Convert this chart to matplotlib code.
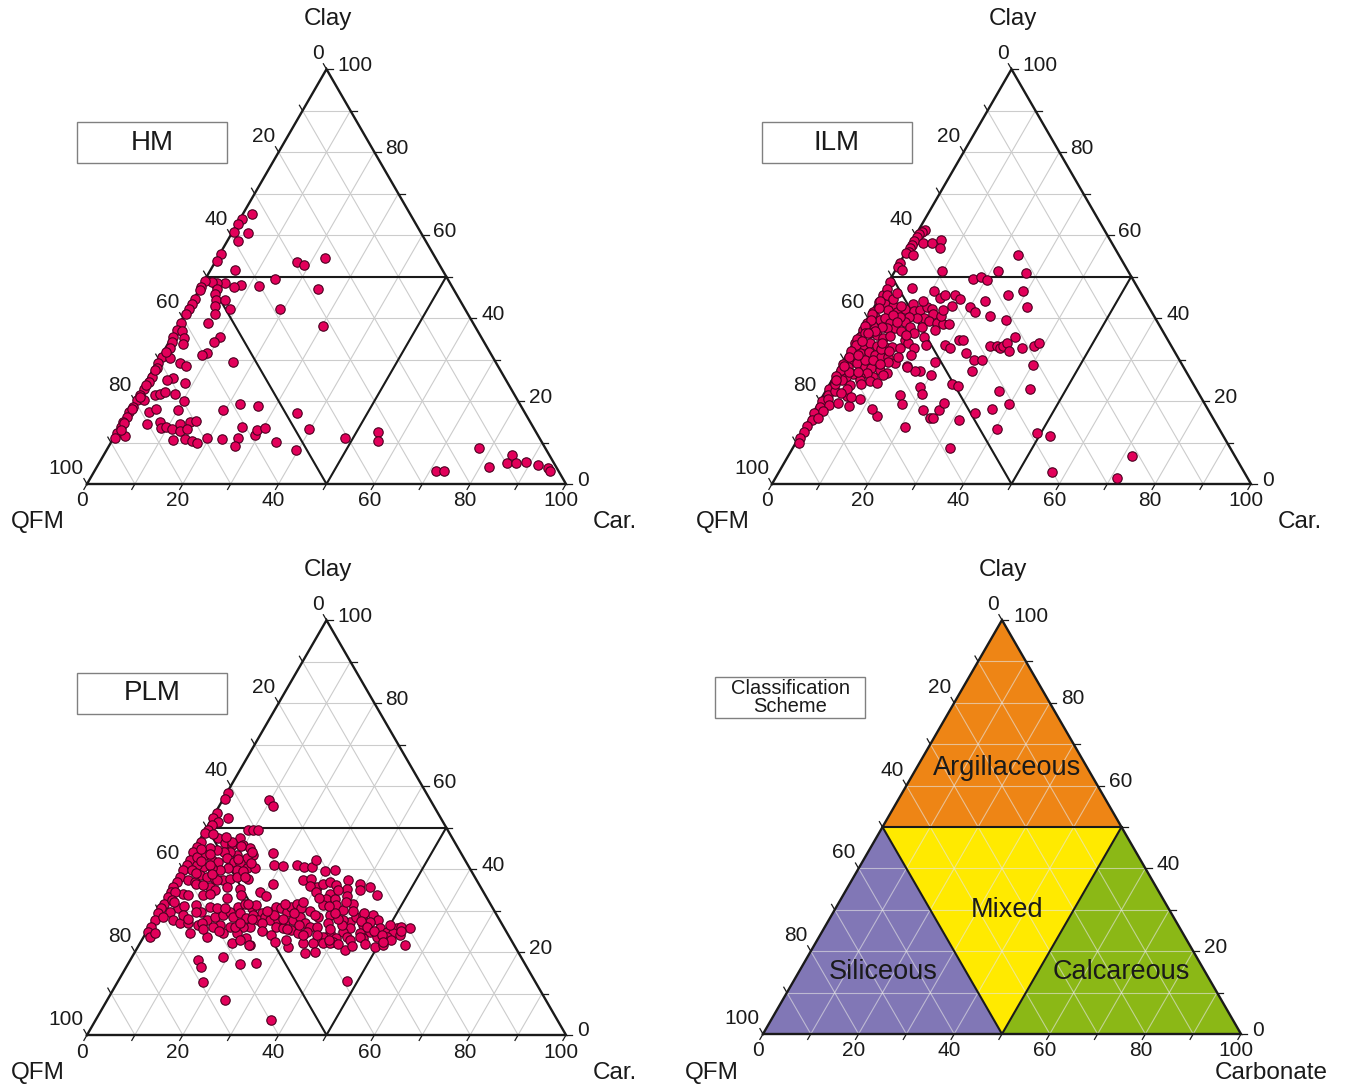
import numpy as np
import matplotlib
matplotlib.use('Agg')
import matplotlib.pyplot as plt
from matplotlib.patches import Polygon, Rectangle

plt.rcParams['font.family'] = ['Liberation Sans', 'DejaVu Sans']

# ---------------- data (Clay %, Carbonate %; QFM = 100 - Clay - Carbonate) ----------------
hm_clay = [65.1, 64.0, 62.6, 60.8, 60.5, 58.6, 55.4, 53.7, 51.6, 53.6, 52.8, 54.6, 49.5, 47.8, 47.9,
           47.4, 48.5, 48.5, 48.7, 49.0, 47.4, 46.7, 46.9, 45.9, 44.7, 43.5, 44.3, 44.3, 42.9, 42.1,
           41.0, 42.1, 46.9, 38.2, 38.9, 42.3, 41.1, 38.9, 37.1, 36.9, 35.5, 34.3, 35.1, 33.7, 35.5,
           34.3, 31.5, 31.1, 29.3, 32.7, 31.1, 30.7, 30.3, 29.1, 27.9, 29.1, 28.5, 25.9, 24.7, 23.0,
           25.5, 24.3, 21.4, 20.2, 18.6, 17.4, 16.2, 15.0, 13.8, 12.2, 11.2, 11.6, 21.4, 21.7, 22.1,
           21.6, 20.1, 17.4, 18.0, 17.8, 14.4, 15.0, 13.6, 13.7, 13.3, 14.4, 14.9, 15.3, 12.8, 13.2,
           10.6, 10.8, 10.4, 10.0, 11.2, 10.8, 11.0, 9.2, 13.8, 11.8, 13.0, 13.6, 19.4, 18.8, 17.8,
           17.0, 13.2, 10.2, 8.2, 11.2, 25.1, 20.2, 31.9, 27.5, 23.8, 21.0, 18.2, 14.6, 13.0,
           12.6, 10.4, 3.2, 3.2, 8.7, 4.0, 5.1, 7.0, 5.0, 5.2, 4.6, 3.8, 3.1]
hm_car = [1.9, 0.3, 0.3, 0.2, 3.4, 2.3, 0.2, 0.2, 5.2, 17.1, 18.8, 22.3, 14.5, 12.0, 8.3,
          7.0, 4.5, 2.8, 1.8, 0.1, 0.2, 0.2, 3.7, 3.7, 0.2, 0.1, 4.7, 6.6, 5.2, 8.7,
          6.2, 19.3, 24.8, 30.1, 5.9, 0.1, 0.1, 0.1, 0.3, 1.3, 0.3, 0.5, 2.6, 3.2, 10.1,
          9.3, 9.3, 8.4, 15.9, 1.0, 1.1, 0.3, 2.1, 0.3, 0.6, 4.8, 6.5, 0.6, 0.5, 0.3,
          5.3, 8.4, 0.4, 0.3, 0.4, 0.1, 0.2, 0.1, 0.1, 0.1, 0.2, 2.1, 3.5, 4.4, 5.3,
          7.6, 10.1, 4.3, 5.5, 10.2, 5.4, 7.7, 8.7, 9.7, 11.0, 12.2, 14.1, 15.2, 13.0, 14.2,
          12.7, 15.1, 16.7, 17.9, 19.4, 22.7, 26.1, 26.4, 25.4, 29.2, 28.9, 30.4, 22.2, 26.4, 19.4,
          35.3, 39.8, 34.4, 39.5, 48.3, 4.1, 1.7, 0.5, 0.4, 0.5, 0.6, 0.3, 0.4, 0.5,
          54.4, 55.5, 71.2, 72.9, 77.5, 82.0, 85.2, 85.3, 87.1, 89.0, 91.8, 94.4, 95.2]

ilm_clay = [61.3, 60.8, 60.2, 59.6, 58.6, 57.6, 56.8, 56.0, 55.6, 55.2, 58.1, 58.0, 58.9, 56.8, 53.2,
            52.4, 51.6, 51.4, 48.7, 55.2, 49.4, 49.9, 49.1, 51.3, 50.9, 47.3, 46.5, 44.9, 45.5, 45.5,
            44.7, 43.0, 42.6, 41.5, 44.1, 40.5, 39.5, 45.5, 46.6, 42.6, 33.5, 32.9, 34.7, 34.7, 31.6,
            29.9, 29.9, 27.2, 24.1, 23.7, 33.3, 33.2, 32.7, 33.2, 33.9, 32.1, 35.5, 32.7, 33.2, 34.0,
            28.7, 22.4, 19.3, 23.0, 18.2, 17.0, 15.4, 13.2, 12.2, 11.6, 8.6, 3.0, 26.3, 29.3, 27.3,
            27.3, 28.4, 23.4, 21.7, 21.4, 19.3, 17.8, 15.8, 15.8, 17.8, 19.6, 13.7, 16.4, 18.2, 20.4,
            18.8, 21.2, 45.5, 43.9, 43.5, 42.9, 41.9, 41.5, 42.1, 43.5, 41.8, 41.9, 42.6, 42.1, 41.1,
            39.9, 40.1, 40.3, 39.1, 37.9, 36.3, 37.9, 39.3, 38.7, 38.5, 38.5, 37.1, 41.5, 40.3, 39.5,
            39.9, 38.7, 37.5, 40.3, 37.5, 37.9, 38.1, 38.7, 37.1, 36.3, 35.9, 35.3, 35.7, 35.5, 33.9,
            33.5, 33.9, 33.2, 33.1, 33.1, 32.7, 34.7, 33.9, 32.7, 31.9, 31.5, 31.9, 31.1, 30.7, 30.5,
            29.1, 30.7, 29.9, 28.3, 29.1, 28.3, 27.9, 27.5, 26.7, 26.3, 25.9, 26.7, 25.9, 26.5, 25.9,
            25.1, 23.8, 23.0, 25.1, 24.9, 24.4, 28.3,
            47.0, 45.5, 44.0, 42.5, 41.0, 39.5, 38.0, 36.5, 35.0, 33.5, 32.0, 30.5, 29.0, 27.5, 26.0,
            24.5, 23.0, 21.5, 20.0, 18.5, 17.0, 15.5, 14.0, 12.5, 11.0, 10.0,
            22.5, 20.5, 19.0, 24.0, 27.0, 30.0, 34.5, 36.8, 32.5, 29.5,
            44.5, 43.0, 40.8, 39.0, 37.0, 36.0, 34.0, 32.0, 30.0, 29.0, 27.0, 24.0, 22.0, 21.0,
            19.5, 17.5, 16.0, 35.5, 33.5, 31.0, 40.5, 42.0, 44.0, 46.0, 36.5, 31.0, 28.5, 25.0,
            6.7, 1.5]
ilm_car = [1.3, 0.9, 0.5, 0.4, 0.3, 0.4, 0.4, 0.5, 0.2, 1.9, 2.4, 4.5, 5.9, 6.7, 0.1,
           0.2, 1.3, 9.7, 0.3, 23.8, 17.3, 18.6, 20.3, 21.6, 27.6, 5.6, 10.5, 12.6, 13.4, 15.5,
           16.9, 16.0, 20.0, 21.7, 22.4, 25.3, 29.0, 26.6, 29.2, 32.0, 19.4, 20.7, 21.6, 22.5, 24.7,
           27.2, 28.9, 28.1, 25.5, 26.9, 28.8, 30.3, 31.3, 31.7, 32.2, 33.5, 32.9, 35.8, 38.0, 38.8,
           40.1, 36.1, 39.9, 42.4, 36.8, 33.9, 31.4, 40.3, 49.2, 52.2, 32.9, 56.9, 20.0, 19.3, 17.2,
           16.3, 13.9, 19.2, 20.4, 16.0, 17.5, 22.7, 25.1, 25.8, 26.0, 26.1, 21.0, 13.8, 11.7, 8.2,
           6.7, 5.0, 0.5, 0.4, 1.8, 3.9, 3.3, 5.3, 6.7, 7.6, 8.7, 9.9, 11.0, 12.3, 13.1,
           11.8, 10.2, 8.5, 8.2, 9.9, 11.5, 12.3, 13.2, 15.0, 16.4, 17.8, 15.5, 0.3, 1.4, 2.8,
           3.6, 5.3, 7.0, 6.6, 5.2, 4.0, 2.1, 0.4, 0.5, 2.3, 3.9, 5.6, 6.8, 0.6, 0.4,
           2.3, 3.5, 5.3, 7.0, 8.4, 10.4, 10.4, 11.5, 13.2, 1.0, 2.6, 4.2, 6.0, 7.5, 9.0,
           11.1, 11.0, 1.7, 1.8, 3.1, 5.2, 6.8, 8.8, 10.6, 10.1, 8.2, 6.4, 5.4, 3.7, 2.6,
           2.0, 4.4, 4.1, 5.8, 8.0, 9.7, 14.0,
           0.6, 1.2, 0.5, 1.0, 0.4, 0.9, 0.5, 1.1, 0.3, 0.8, 0.4, 0.9, 0.3, 0.7, 0.4,
           0.8, 0.3, 0.9, 0.4, 0.7, 0.3, 0.6, 0.3, 0.5, 0.3, 0.6,
           2.0, 1.5, 2.5, 1.2, 2.5, 4.5, 1.5, 3.2, 6.5, 9.5,
           3.0, 5.5, 4.8, 6.5, 8.5, 10.0, 6.0, 8.5, 6.0, 8.0, 4.5, 6.5, 3.5, 6.0,
           4.0, 2.0, 1.5, 14.0, 15.5, 13.5, 15.0, 14.8, 9.5, 3.0, 1.8, 2.5, 0.8, 0.9,
           71.8, 71.3]

plm_clay = [58.4, 57.0, 56.6, 55.2, 53.4, 52.4, 51.4, 50.6, 52.2, 49.4, 48.6, 49.4, 49.4, 49.4,
            46.6, 45.4, 44.2, 42.2, 41.0, 39.7, 38.1, 37.0, 35.7, 34.5, 33.3, 31.7, 30.5, 29.3, 27.7,
            26.1, 24.9, 23.7, 24.7,
            47.4, 46.2, 45.8, 47.4, 45.8, 45.0, 43.4, 42.6, 43.4, 44.2, 44.2, 44.6, 45.0, 43.4, 42.2,
            41.8, 42.6, 41.8, 41.4, 40.2, 39.7, 40.2, 39.7, 40.2, 40.6, 41.0, 38.5, 38.1, 37.7, 37.3,
            37.7, 38.1, 37.5, 40.2, 35.7, 35.7, 35.3, 43.0, 39.7, 37.3, 37.0, 37.3,
            43.8, 41.0, 40.7, 36.3, 34.5, 33.6, 41.0, 40.4, 40.4, 42.3, 39.6, 39.7,
            34.1, 33.7, 34.5, 32.5, 30.5, 29.7, 28.5, 27.7, 26.9, 26.9, 26.5, 27.7, 28.5, 28.9, 29.7,
            30.9, 31.7, 30.5, 31.3, 29.3, 33.7, 31.3, 29.7, 30.9, 30.5, 30.5, 28.5, 29.3, 28.1, 26.1,
            26.1, 24.5, 26.1, 26.5, 26.1, 24.5, 23.7, 24.7, 29.7, 33.7, 31.7, 28.9, 27.7, 28.5, 29.7,
            30.9, 30.5, 29.7, 30.9, 31.7, 30.5, 27.7, 27.7, 27.3, 27.7, 28.5, 26.9, 26.1, 26.1, 26.1,
            25.7, 25.3, 24.5, 24.9, 23.3, 21.7, 22.2, 23.0,
            37.3, 37.7, 35.7, 36.5, 37.0, 36.1, 37.3, 35.3, 36.5, 35.7, 33.7, 34.9, 34.1, 32.9, 32.9,
            31.3, 31.3, 31.7, 30.1, 28.9, 28.5, 27.3, 28.5, 28.9, 28.9, 27.7, 27.3, 26.5, 25.7, 24.9,
            24.5, 23.7, 22.9, 23.3, 23.7, 24.5, 24.9, 25.7, 24.9, 25.7, 26.1, 25.7, 24.5, 24.1, 23.7,
            23.7, 23.3, 22.9, 22.5, 22.1, 22.1, 22.1, 19.8, 20.1, 22.1, 20.5, 21.3, 21.7, 21.7, 21.3,
            23.7, 27.7, 26.9,
            18.2, 16.5, 18.9, 17.1, 17.4, 12.7, 8.4, 13.1, 3.6, 21.7,
            44.8, 43.6, 42.0, 40.9, 39.0, 38.8, 36.5, 36.2, 35.0, 34.0, 42.5, 44.0, 39.5, 38.0, 46.5,
            47.8, 48.5, 45.5, 41.5, 33.0,
            32.0, 31.0, 29.0, 28.0, 27.0, 25.5, 25.0, 26.0, 27.0, 28.0, 29.0, 30.0, 27.0, 25.0, 24.0,
            25.5, 26.5, 24.0, 23.0, 22.5, 29.5, 28.0, 31.5, 32.0, 30.0, 29.0,
            36.0, 34.5, 33.0, 35.0, 33.5, 32.0, 30.0, 29.5, 27.5, 26.0, 25.0, 24.0, 23.0, 22.5, 22.0,
            21.5, 22.0, 23.0, 24.0, 25.5, 26.5, 28.0, 29.5, 31.0, 25.0, 26.5]
plm_car = [0.3, 0.3, 9.6, 11.3, 0.5, 0.2, 1.7, 0.7, 3.4, 0.6, 0.3, 9.0, 10.0, 10.9,
           0.6, 0.2, 0.1, 0.4, 0.3, 0.2, 0.3, 0.2, 0.1, 0.2, 0.2, 0.2, 0.3, 0.2, 0.3,
           0.4, 0.3, 1.3, 1.8,
           3.7, 5.7, 7.3, 8.2, 9.7, 11.5, 13.0, 12.0, 9.6, 7.8, 6.4, 4.8, 3.2, 2.9, 4.9,
           6.5, 7.9, 9.7, 11.2, 13.2, 11.4, 9.4, 7.9, 5.9, 4.0, 2.4, 4.3, 5.9, 7.8, 9.8,
           11.0, 12.2, 14.9, 15.0, 7.8, 11.3, 14.2, 1.4, 2.0, 2.5, 4.1, 8.4,
           16.9, 18.5, 20.6, 20.7, 18.8, 20.6, 23.3, 25.0, 26.7, 26.6, 29.9, 31.9,
           3.0, 4.3, 1.1, 1.4, 3.8, 2.4, 1.6, 4.1, 5.9, 7.7, 9.9, 11.1, 12.4, 14.0, 15.0,
           16.1, 17.1, 19.1, 19.7, 21.8, 7.4, 7.2, 9.0, 10.2, 11.8, 13.5, 16.3, 17.2, 19.2, 20.9,
           19.5, 19.0, 16.8, 14.5, 13.3, 16.2, 13.1, 9.1, 8.0, 15.4, 17.8, 20.2, 21.9, 22.9, 23.7,
           24.1, 25.3, 26.8, 27.2, 27.9, 29.5, 24.3, 26.1, 27.6, 29.2, 30.2, 32.0, 33.5, 34.9, 26.5,
           28.1, 30.0, 31.8, 33.4, 21.6, 23.1, 19.1, 20.4,
           26.5, 28.0, 30.1, 31.0, 32.2, 34.0, 35.9, 36.6, 38.7, 41.2, 43.6, 39.5, 33.6, 33.5, 35.3,
           33.6, 36.4, 39.7, 38.4, 36.2, 34.0, 41.2, 42.0, 43.2, 45.3, 46.9, 45.4, 44.4, 42.0, 41.0,
           38.4, 37.4, 36.5, 40.4, 42.4, 44.7, 46.6, 48.3, 50.1, 51.8, 52.6, 54.5, 51.7, 53.3, 50.7,
           48.6, 46.0, 43.4, 40.1, 38.2, 36.2, 34.1, 35.6, 37.5, 39.6, 43.6, 49.4, 51.0, 55.5, 31.3,
           45.1, 39.6, 36.9,
           14.1, 15.6, 19.0, 23.3, 26.6, 17.9, 24.6, 47.8, 36.6, 23.0,
           1.5, 3.8, 2.8, 5.2, 3.2, 6.8, 4.5, 6.2, 9.2, 8.6, 10.2, 12.5, 12.8, 14.0, 7.0,
           5.2, 2.0, 9.5, 13.5, 12.8,
           2.2, 4.8, 5.5, 7.0, 10.5, 11.5, 15.0, 17.8, 18.5, 20.5, 24.5, 22.5, 23.0, 24.0, 26.5,
           29.0, 31.0, 33.0, 30.0, 28.0, 28.5, 27.0, 25.5, 29.0, 31.5, 33.0,
           28.5, 30.5, 32.0, 35.0, 37.5, 38.0, 40.5, 43.0, 43.5, 45.5, 47.5, 49.5, 52.0, 50.5, 47.0,
           44.5, 41.5, 39.0, 36.0, 38.0, 40.0, 38.5, 37.0, 35.0, 53.0, 50.0]

panel_names = ['HM', 'ILM', 'PLM']
tick_values = [0, 20, 40, 60, 80, 100]

# classification scheme regions, vertices as (Clay, Carbonate)
region_names = ['Argillaceous', 'Mixed', 'Siliceous', 'Calcareous']
region_vertices = [[(50, 0), (50, 50), (100, 0)],
                   [(50, 0), (50, 50), (0, 50)],
                   [(0, 0), (0, 50), (50, 0)],
                   [(0, 100), (0, 50), (50, 50)]]
region_colors = ['#EE8515', '#FFEA00', '#8177B6', '#8BB816']

# ---------------- drawing ----------------
W, H = 1349, 1088
fig = plt.figure(figsize=(W / 100, H / 100), dpi=100)
SQ = np.sqrt(3) / 2
TXT = '#1a1a1a'


def tern(clay, car):
    clay = np.asarray(clay, float)
    car = np.asarray(car, float)
    return car + clay / 2.0, clay * SQ


def fx(x):
    return x / W


def fy(y):
    return 1 - y / H


def make_panel(region, vertex, side):
    x0, y0, x1, y1 = region
    ax = fig.add_axes([x0 / W, 1 - y1 / H, (x1 - x0) / W, (y1 - y0) / H])
    Lx, Ly = vertex
    k = 100.0 / side
    ax.set_xlim((x0 - Lx) * k, (x1 - Lx) * k)
    ax.set_ylim((Ly - y1) * k, (Ly - y0) * k)
    ax.axis('off')
    return ax


def draw_frame(ax, grid_color='#cccccc', grid_alpha=1.0):
    for v in range(10, 100, 10):
        for (c1, r1), (c2, r2) in [((v, 0), (v, 100 - v)),
                                   ((0, v), (100 - v, v)),
                                   ((0, 100 - v), (100 - v, 0))]:
            x, y = tern([c1, c2], [r1, r2])
            ax.plot(x, y, color=grid_color, lw=0.8, alpha=grid_alpha, zorder=2)
    x, y = tern([0, 0, 100, 0], [0, 100, 0, 0])
    ax.plot(x, y, color=TXT, lw=1.7, zorder=4, solid_joinstyle='miter')
    x, y = tern([50, 50], [0, 50])
    ax.plot(x, y, color=TXT, lw=1.5, zorder=4)
    x, y = tern([50, 0, 50], [0, 50, 50])
    ax.plot(x, y, color=TXT, lw=1.5, zorder=4)
    d = 1.3
    for v in range(0, 101, 10):
        x, y = tern(100 - v, 0)
        ax.plot([x, x - 0.5 * d], [y, y + SQ * d], color=TXT, lw=0.9, zorder=4)
        x, y = tern(v, 100 - v)
        ax.plot([x, x + d], [y, y], color=TXT, lw=0.9, zorder=4)
        x, y = tern(0, v)
        ax.plot([x, x - 0.5 * d], [y, y - SQ * d], color=TXT, lw=0.9, zorder=4)
    for v in tick_values:
        x, y = tern(100 - v, 0)
        ax.annotate(str(v), (x, y), xytext=(-3, 6), textcoords='offset pixels',
                    ha='right', va='bottom', fontsize=15, color=TXT)
        x, y = tern(v, 100 - v)
        ax.annotate(str(v), (x, y), xytext=(11, 4), textcoords='offset pixels',
                    ha='left', va='center', fontsize=15, color=TXT)
        x, y = tern(0, v)
        ax.annotate(str(v), (x, y), xytext=(-5, -17), textcoords='offset pixels',
                    ha='center', va='center', fontsize=15, color=TXT)


def label_box(x0, y0, x1, y1, text, size):
    fig.patches.append(Rectangle((fx(x0), fy(y1)), fx(x1) - fx(x0), fy(y0) - fy(y1),
                                 transform=fig.transFigure, fill=False,
                                 edgecolor='#808080', lw=1.0))
    fig.text(fx((x0 + x1) / 2), fy((y0 + y1) / 2), text, ha='center', va='center',
             fontsize=size, color=TXT, linespacing=1.0)


panels = [((0, 0, 674, 544), (87, 484), 479),
          ((674, 0, 1349, 544), (772, 484), 479),
          ((0, 544, 674, 1088), (87, 1035), 479),
          ((674, 544, 1349, 1088), (763, 1034), 478)]
data = [(hm_clay, hm_car), (ilm_clay, ilm_car), (plm_clay, plm_car)]

for i, (reg, vert, side) in enumerate(panels):
    ax = make_panel(reg, vert, side)
    if i < 3:
        draw_frame(ax)
        x, y = tern(*data[i])
        ax.scatter(x, y, s=46, facecolor='#E2005A', edgecolor='#4a0020', lw=0.8, zorder=6)
    else:
        for verts, col in zip(region_vertices, region_colors):
            x, y = tern([v[0] for v in verts], [v[1] for v in verts])
            ax.add_patch(Polygon(np.column_stack([x, y]), closed=True, facecolor=col,
                                 edgecolor='none', zorder=1))
        draw_frame(ax, grid_color='#e6e6e6', grid_alpha=0.6)

for (cx, cy) in [(328, 19), (1013, 19), (328, 570), (1003, 570)]:
    fig.text(fx(cx), fy(cy), 'Clay', ha='center', va='center', fontsize=17.5, color=TXT)
for (cx, cy) in [(38, 522), (723, 522), (38, 1073), (712, 1073)]:
    fig.text(fx(cx), fy(cy), 'QFM', ha='center', va='center', fontsize=17.5, color=TXT)
for (cx, cy) in [(615, 522), (1300, 522), (615, 1073)]:
    fig.text(fx(cx), fy(cy), 'Car.', ha='center', va='center', fontsize=17.5, color=TXT)
fig.text(fx(1271), fy(1073), 'Carbonate', ha='center', va='center', fontsize=17.5, color=TXT)

label_box(77, 122, 227, 163, panel_names[0], 20)
label_box(762, 122, 912, 163, panel_names[1], 20)
label_box(77, 673, 227, 714, panel_names[2], 20)
label_box(715, 677, 865, 718, 'Classification\nScheme', 14.5)

for name, (cx, cy) in zip(region_names, [(1007, 768), (1007, 910), (883, 972), (1121, 972)]):
    fig.text(fx(cx), fy(cy), name, ha='center', va='center', fontsize=19.5, color=TXT,
             family=['Liberation Sans Narrow', 'Liberation Sans', 'DejaVu Sans'])

fig.savefig('out.png', dpi=100)
